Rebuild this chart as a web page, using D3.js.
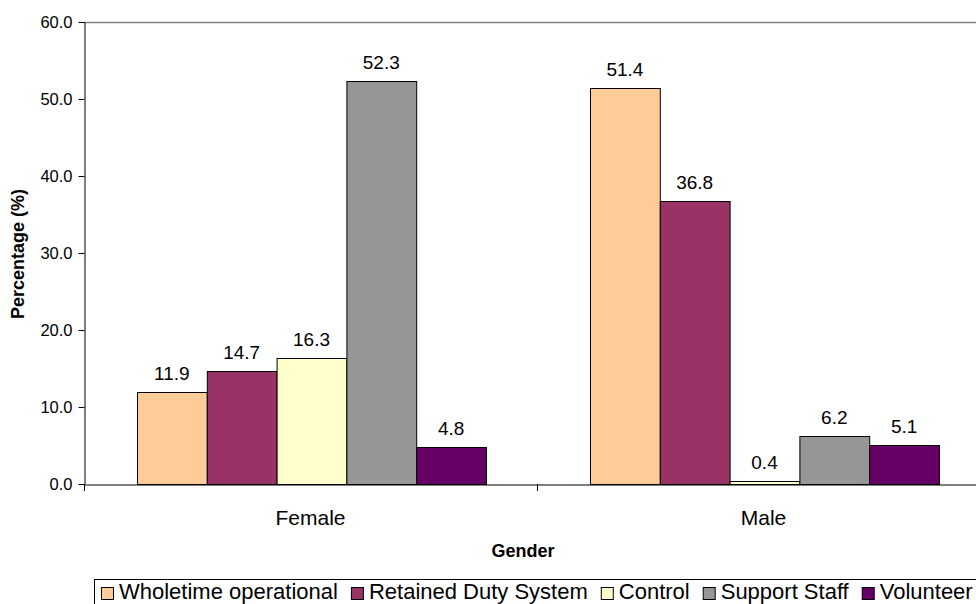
<!DOCTYPE html>
<html><head><meta charset="utf-8">
<script src="https://cdn.jsdelivr.net/npm/d3@7"></script>
<style>body{margin:0;background:#fff}svg{display:block;font-family:"Liberation Sans",Arial,sans-serif}</style>
</head><body>
<svg id="c" width="976" height="604"></svg>
<script>
const categories = ["Female", "Male"];
const seriesNames = ["Wholetime operational", "Retained Duty System", "Control", "Support Staff", "Volunteer"];
const femaleValues = [11.9, 14.7, 16.3, 52.3, 4.8];
const maleValues = [51.4, 36.8, 0.4, 6.2, 5.1];
const yTicks = [0, 10, 20, 30, 40, 50, 60];
const colors = ["#FFCC99", "#993366", "#FFFFCC", "#969696", "#660066"];

const values = [femaleValues, maleValues];
const svg = d3.select("#c");
const FF = "Liberation Sans, Arial, sans-serif";
const L = 84, T = 22, B = 484, R = 990;
const x0 = d3.scaleBand().domain(categories).range([L, R]).padding(0);
const x1 = d3.scaleBand().domain(seriesNames).range([53, 402]).padding(0);
const y = d3.scaleLinear().domain([0, 60]).range([B, T]);

// plot area top border
svg.append("line").attr("x1", L).attr("x2", R).attr("y1", T + 0.5).attr("y2", T + 0.5).attr("stroke", "#808080").attr("stroke-width", 1.5);

// bars
categories.forEach((c, ci) => {
  const g = svg.append("g").attr("transform", `translate(${x0(c)},0)`);
  seriesNames.forEach((s, si) => {
    const v = values[ci][si];
    g.append("rect").attr("x", x1(s) + 0.5).attr("y", Math.round(y(v)) + 0.5).attr("width", x1.bandwidth()).attr("height", B - Math.round(y(v)))
      .attr("fill", colors[si]).attr("stroke", "#000").attr("stroke-width", 1);
    g.append("text").attr("x", x1(s) + x1.bandwidth() / 2).attr("y", y(v) - 12)
      .attr("text-anchor", "middle").attr("font-size", 19).attr("fill", "#000").text(v.toFixed(1));
  });
});

// y axis
const ya = d3.axisLeft(y).tickValues(yTicks).tickFormat(d3.format(".1f")).tickSize(6).tickSizeOuter(0);
const yg = svg.append("g").attr("transform", `translate(${L + 0.5},0)`).call(ya);
yg.select(".domain").attr("stroke", "#000");
yg.selectAll(".tick line").attr("stroke", "#000");
yg.selectAll("text").attr("font-size", 16.5).attr("font-family", FF).attr("fill", "#000").attr("x", -12);

// x axis
const xa = d3.axisBottom(x0).tickSize(0).tickSizeOuter(0);
const xg = svg.append("g").attr("transform", `translate(0,${B + 0.5})`).call(xa);
xg.select(".domain").attr("stroke", "#000");
xg.selectAll("text").attr("font-size", 21).attr("font-family", FF).attr("fill", "#000").attr("y", 40).attr("dy", 0);
// category separators
const seps = [L, x0(categories[1]), R];
svg.append("g").selectAll("line").data(seps).join("line")
  .attr("x1", d => d + 0.5).attr("x2", d => d + 0.5).attr("y1", B).attr("y2", B + 7).attr("stroke", "#000");

// axis titles
svg.append("text").attr("transform", "translate(24,254) rotate(-90)").attr("text-anchor", "middle")
  .attr("font-size", 18).attr("font-weight", "bold").text("Percentage (%)");
svg.append("text").attr("x", 523).attr("y", 557).attr("text-anchor", "middle")
  .attr("font-size", 18).attr("font-weight", "bold").text("Gender");

// legend
const lg = svg.append("g");
lg.append("rect").attr("x", 94.5).attr("y", 579.5).attr("width", 900).attr("height", 40).attr("fill", "#fff").attr("stroke", "#000");
let lx = 101;
seriesNames.forEach((s, i) => {
  lg.append("rect").attr("x", lx + 0.5).attr("y", 587.5).attr("width", 12).attr("height", 12).attr("fill", colors[i]).attr("stroke", "#000");
  const t = lg.append("text").attr("x", lx + 18).attr("y", 599).attr("font-size", 22).text(s);
  lx += 18 + t.node().getComputedTextLength() + 13;
});
</script>
</body></html>
